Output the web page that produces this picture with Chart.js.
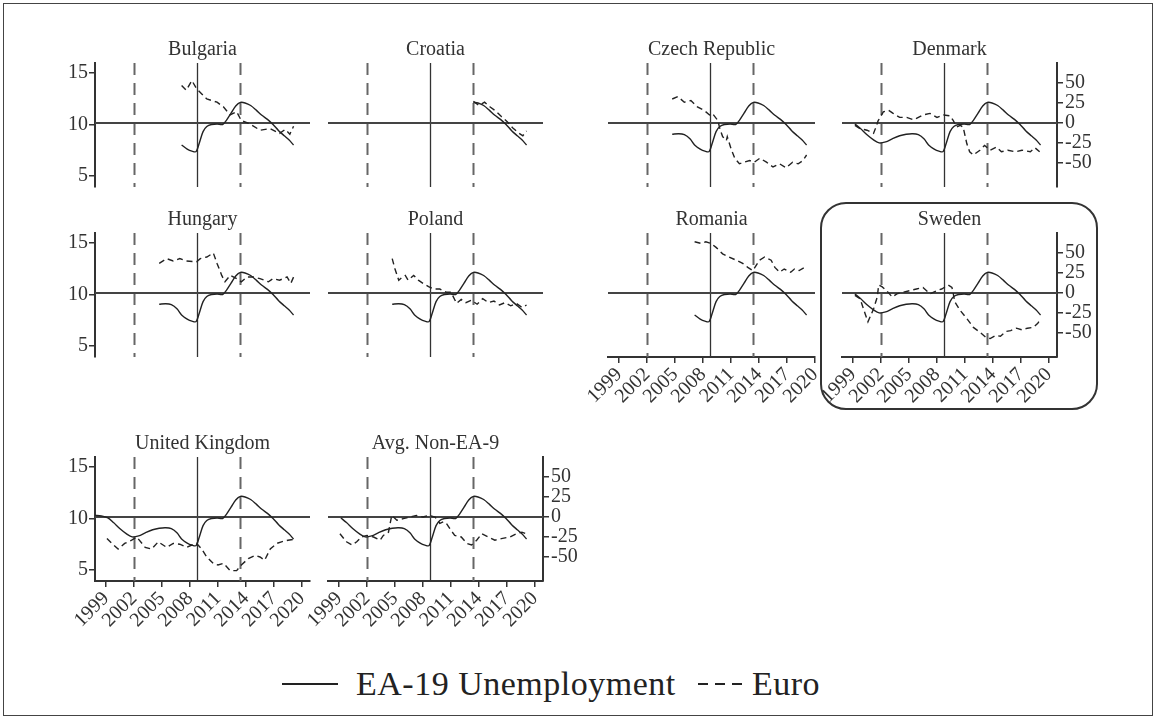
<!DOCTYPE html>
<html>
<head>
<meta charset="utf-8">
<script src="https://cdn.jsdelivr.net/npm/chart.js@4.4.1/dist/chart.umd.min.js"></script>
<style>
  html, body { margin: 0; padding: 0; background: #fff; }
  #page { position: relative; width: 1157px; height: 720px; overflow: hidden; background: #fff; }
  #frame { position: absolute; left: 3px; top: 3px; width: 1150px; height: 713px; border: 1px solid #444; box-sizing: border-box; }
  #page canvas { position: absolute; }
  #swbox { position: absolute; left: 820px; top: 202px; width: 278px; height: 208px; border: 2px solid #333; border-radius: 26px; box-sizing: border-box; }
  .leg { position: absolute; font-family: 'Liberation Serif', serif; font-size: 34px; letter-spacing: 0.5px; color: #222; line-height: 1; }
  .solid { position: absolute; height: 2px; background: #222; }
  .dash { position: absolute; height: 2px; background: repeating-linear-gradient(to right, #222 0 10px, transparent 10px 17px); }
</style>
</head>
<body>
<div id="page">
  <div id="frame"></div>
  <div id="swbox"></div>
  <div class="solid" style="left:282px; top:683px; width:56px"></div>
  <div class="leg" style="left:356px; top:667px">EA-19 Unemployment</div>
  <div class="dash" style="left:698px; top:683px; width:48px"></div>
  <div class="leg" style="left:752px; top:667px">Euro</div>
</div>
<script>
/* Paneles: desempleo EA-19 (eje izq.) y apoyo al euro (eje der.) por pais */
(function () {
  'use strict';

  var INK = '#222';
  var FONT = "'Liberation Serif', serif";

  // ejes
  var X_TICKS = [1999, 2002, 2005, 2008, 2011, 2014, 2017, 2020];
  var YL_TICKS = [5, 10, 15];
  var YR_TICKS = [-50, -25, 0, 25, 50];
  var EVENT_DASHED = [2002, 2013.4];
  var EVENT_SOLID = [2008.7];

  // desempleo EA-19 (serie comun)
  var EA_YEARS = [1997.8, 1998.5, 1999.2, 1999.8, 2000.5, 2001.2, 2001.8, 2002.5, 2003.2, 2004.0,
    2004.7, 2005.4, 2006.0, 2006.6, 2007.1, 2007.7, 2008.2, 2008.65, 2009.0, 2009.4,
    2009.8, 2010.3, 2010.9, 2011.5, 2011.9, 2012.4, 2012.9, 2013.4, 2013.9, 2014.5,
    2015.1, 2015.7, 2016.3, 2016.9, 2017.5, 2018.1, 2018.6, 2019.1];
  var EA_RATE = [10.3, 10.25, 10.05, 9.6, 9.0, 8.5, 8.2, 8.3, 8.6, 8.9,
    9.05, 9.1, 9.0, 8.6, 8.0, 7.6, 7.4, 7.35, 8.2, 9.3,
    9.8, 10.0, 10.05, 10.0, 10.4, 11.1, 11.8, 12.15, 12.1, 11.85,
    11.4, 10.9, 10.5, 10.0, 9.4, 8.9, 8.5, 8.0];

  // euro (año, valor)
  var EURO_BG = [[2007.1, 47], [2007.6, 41], [2008.2, 53], [2008.7, 43], [2009.8, 30], [2010.9, 26], [2011.6, 20],
    [2012.3, 10], [2013.0, 14], [2013.5, 3], [2014.4, -1], [2015.5, -9], [2016.6, -7], [2017.6, -13],
    [2018.2, -8], [2018.7, -14], [2019.1, -4]];
  var EURO_HR = [[2013.4, 27], [2014.0, 22], [2014.6, 26], [2015.2, 20], [2015.8, 15], [2016.4, 8], [2017.0, 2],
    [2017.6, -6], [2018.2, -12], [2018.7, -16], [2019.1, -10]];
  var EURO_CZ = [[2004.7, 30], [2005.3, 33], [2006.0, 26], [2006.7, 28], [2007.4, 20], [2008.1, 16], [2008.7, 10],
    [2009.0, 12], [2009.6, 3], [2009.8, -7], [2010.1, -17], [2010.5, -22], [2010.6, -17], [2011.0, -32],
    [2011.4, -44], [2011.9, -51], [2012.4, -49], [2013.0, -47], [2013.5, -49], [2014.1, -44], [2014.8, -49],
    [2015.5, -55], [2016.2, -51], [2016.9, -56], [2017.6, -49], [2018.2, -51], [2018.7, -47], [2019.1, -40]];
  var EURO_DK = [[1999.2, -3], [1999.75, -7], [2000.5, -9], [2001.2, -13], [2001.4, -7], [2001.7, 3], [2002.25, 14],
    [2002.8, 16], [2003.3, 12], [2004.0, 7], [2004.75, 7], [2005.5, 4], [2006.5, 10], [2007.25, 12],
    [2008.0, 7], [2008.7, 10], [2009.4, 9], [2009.75, 3], [2010.1, -5], [2010.5, -3], [2010.8, -5],
    [2011.2, -26], [2011.5, -36], [2011.9, -40], [2012.6, -34], [2013.1, -28], [2013.7, -34], [2014.4, -30],
    [2014.9, -36], [2015.6, -34], [2016.4, -36], [2017.1, -34], [2018.0, -36], [2018.5, -31], [2019.0, -36]];
  var EURO_HU = [[2004.7, 37], [2005.5, 43], [2006.2, 40], [2006.9, 43], [2007.6, 40], [2008.7, 39], [2009.1, 43],
    [2009.8, 45], [2010.5, 50], [2010.9, 37], [2011.4, 22], [2011.75, 14], [2012.3, 22], [2013.0, 18],
    [2013.5, 14], [2014.1, 20], [2014.8, 20], [2015.5, 18], [2016.4, 14], [2016.9, 18], [2017.6, 16],
    [2018.4, 20], [2018.8, 12], [2019.1, 20]];
  var EURO_PL = [[2004.7, 43], [2005.0, 30], [2005.4, 16], [2005.7, 19], [2006.1, 22], [2006.4, 16], [2007.0, 22],
    [2007.5, 16], [2008.0, 12], [2008.6, 8], [2009.1, 5], [2009.8, 5], [2010.5, 1], [2011.0, 1], [2011.6, -13],
    [2012.1, -8], [2012.6, -12], [2013.2, -9], [2013.8, -14], [2014.4, -7], [2015.0, -12], [2015.6, -10],
    [2016.2, -15], [2016.8, -12], [2017.4, -16], [2018.0, -13], [2018.6, -18], [2019.1, -15]];
  var EURO_RO = [[2007.1, 64], [2007.8, 62], [2008.3, 64], [2008.85, 62], [2009.4, 57], [2010.1, 49], [2010.8, 45],
    [2011.55, 41], [2012.25, 37], [2012.8, 32], [2013.35, 28], [2014.05, 41], [2014.6, 45], [2015.3, 41],
    [2015.7, 32], [2016.2, 26], [2016.7, 30], [2017.4, 26], [2017.8, 30], [2018.3, 28], [2018.9, 32]];
  var EURO_SE = [[1999.2, -3], [1999.75, -7], [2000.3, -26], [2000.6, -36], [2001.2, -20], [2001.6, -5],
    [2001.75, 10], [2002.1, 8], [2002.6, 3], [2003.2, -5], [2003.7, -1], [2004.4, 1], [2005.1, 3], [2005.8, 5],
    [2006.5, 7], [2007.25, -1], [2008.0, 3], [2008.5, 5], [2009.2, 10], [2009.6, 7], [2009.75, -1],
    [2009.9, -11], [2010.5, -22], [2011.2, -32], [2011.9, -43], [2012.6, -49], [2013.2, -55], [2013.7, -57],
    [2014.3, -53], [2014.8, -54], [2015.4, -48], [2015.9, -47], [2016.5, -44], [2017.1, -46], [2017.7, -44],
    [2018.3, -43], [2018.8, -38], [2019.1, -32]];
  var EURO_UK = [[1999.1, -27], [1999.8, -35], [2000.3, -40], [2001.0, -33], [2001.75, -29], [2002.3, -25],
    [2003.2, -38], [2003.9, -40], [2004.6, -31], [2005.5, -38], [2006.2, -33], [2006.9, -34], [2007.65, -38],
    [2008.2, -35], [2008.7, -33], [2009.25, -40], [2009.8, -50], [2010.5, -58], [2011.0, -60], [2011.6, -58],
    [2012.3, -67], [2013.0, -67], [2013.5, -60], [2014.25, -52], [2015.0, -48], [2015.5, -50], [2016.0, -54],
    [2016.6, -40], [2017.3, -33], [2017.8, -31], [2018.5, -29], [2019.1, -28]];
  var EURO_AVG = [[1999.1, -21], [1999.8, -31], [2000.4, -35], [2000.9, -31], [2001.4, -25], [2002.0, -23],
    [2002.7, -25], [2003.4, -29], [2003.75, -23], [2004.3, -19], [2004.65, 2], [2005.2, -4], [2005.9, -2],
    [2006.6, 0], [2007.3, 2], [2008.0, 0], [2008.6, 2], [2009.3, 0], [2009.8, -8], [2010.2, -6], [2010.5, -8],
    [2010.9, -15], [2011.4, -23], [2012.1, -25], [2012.7, -33], [2013.2, -35], [2013.75, -29], [2014.3, -21],
    [2015.0, -25], [2015.7, -29], [2016.4, -27], [2017.3, -25], [2018.0, -21], [2018.6, -19], [2019.1, -21]];

  // rejilla de paneles (la columna 3 termina en 2020)
  var COL_X = [95, 328, 608, 842];
  var COL_W = [215, 215, 207, 215];
  var COL_XMAX = [2020.86, 2020.86, 2020.0, 2020.86];
  var ROW_Y = [63, 233, 457];
  var PH = 124;
  var X_MIN = 1997.82;
  var YL_MIN = 3.9, YL_MAX = 16.0;
  var YR_MIN = -80, YR_MAX = 75;

  var PANELS = [
    { title: 'Bulgaria', col: 0, row: 0, from: 2007.1, euro: EURO_BG, left: true },
    { title: 'Croatia', col: 1, row: 0, from: 2013.4, euro: EURO_HR },
    { title: 'Czech Republic', col: 2, row: 0, from: 2004.7, euro: EURO_CZ },
    { title: 'Denmark', col: 3, row: 0, from: 1999.2, euro: EURO_DK, right: true },
    { title: 'Hungary', col: 0, row: 1, from: 2004.7, euro: EURO_HU, left: true },
    { title: 'Poland', col: 1, row: 1, from: 2004.7, euro: EURO_PL },
    { title: 'Romania', col: 2, row: 1, from: 2007.1, euro: EURO_RO, xaxis: true },
    { title: 'Sweden', col: 3, row: 1, from: 1999.2, euro: EURO_SE, right: true, xaxis: true },
    { title: 'United Kingdom', col: 0, row: 2, from: 1997.8, euro: EURO_UK, left: true, xaxis: true },
    { title: 'Avg. Non-EA-9', col: 1, row: 2, from: 1999.2, euro: EURO_AVG, right: true, xaxis: true }
  ];

  var M = 70, T = 40, B = 80, AXW = 40, XH = 50;

  // lineas de referencia: vertical (eventos) y horizontal en euro = 0
  var refLines = {
    id: 'refLines',
    beforeDatasetsDraw: function (chart) {
      var ctx = chart.ctx, a = chart.chartArea, x = chart.scales.x, yr = chart.scales.yR;
      ctx.save();
      ctx.strokeStyle = '#666';
      ctx.lineWidth = 2;
      ctx.setLineDash([12, 8]);
      EVENT_DASHED.forEach(function (v) {
        var px = Math.round(x.getPixelForValue(v)) + 0.5;
        ctx.beginPath(); ctx.moveTo(px, a.top); ctx.lineTo(px, a.bottom); ctx.stroke();
      });
      ctx.setLineDash([]);
      ctx.strokeStyle = '#333';
      ctx.lineWidth = 1.3;
      EVENT_SOLID.forEach(function (v) {
        var px = Math.round(x.getPixelForValue(v)) + 0.5;
        ctx.beginPath(); ctx.moveTo(px, a.top); ctx.lineTo(px, a.bottom); ctx.stroke();
      });
      ctx.strokeStyle = '#444';
      ctx.lineWidth = 2;
      var py = Math.round(yr.getPixelForValue(0));
      ctx.beginPath(); ctx.moveTo(a.left, py); ctx.lineTo(a.right, py); ctx.stroke();
      ctx.restore();
    }
  };

  var panelTitle = {
    id: 'panelTitle',
    afterDraw: function (chart, args, opts) {
      var ctx = chart.ctx, a = chart.chartArea;
      ctx.save();
      ctx.font = '20px ' + FONT;
      ctx.fillStyle = '#333';
      ctx.textAlign = 'center';
      ctx.textBaseline = 'middle';
      ctx.fillText(opts.text, (a.left + a.right) / 2, a.top - 13);
      ctx.restore();
    }
  };

  function eaPoints(from) {
    var pts = [];
    EA_YEARS.forEach(function (yr, i) {
      if (yr >= from - 0.001) pts.push({ x: yr, y: EA_RATE[i] });
    });
    return pts;
  }

  function fixedTicks(vals) {
    return function (s) { s.ticks = vals.map(function (v) { return { value: v }; }); };
  }

  function axisOpts(show) {
    return {
      display: !!show,
      grid: { drawOnChartArea: false, drawTicks: true, tickLength: 6, color: '#333', lineWidth: 1.5 },
      border: { display: true, color: '#333', width: 2 },
      ticks: { color: '#333', font: { family: FONT, size: 20 }, padding: 1,
        callback: function (v) { return String(v); } }
    };
  }

  function panel(p) {
    var page = document.getElementById('page');
    var cv = document.createElement('canvas');
    var px = COL_X[p.col], py = ROW_Y[p.row], pw = COL_W[p.col];
    cv.width = pw + 2 * M;
    cv.height = PH + T + B;
    cv.style.left = (px - M) + 'px';
    cv.style.top = (py - T) + 'px';
    page.appendChild(cv);

    var x = axisOpts(p.xaxis);
    x.type = 'linear'; x.min = X_MIN; x.max = COL_XMAX[p.col]; x.position = 'bottom';
    x.ticks.minRotation = 45; x.ticks.maxRotation = 45; x.ticks.autoSkip = false; x.ticks.padding = 0;
    x.afterBuildTicks = fixedTicks(X_TICKS);
    x.afterFit = function (s) { s.paddingLeft = 0; s.paddingRight = 0; if (s.options.display) s.height = XH; };

    var yL = axisOpts(p.left);
    yL.position = 'left'; yL.min = YL_MIN; yL.max = YL_MAX;
    yL.afterBuildTicks = fixedTicks(YL_TICKS);
    yL.afterFit = function (s) { s.paddingTop = 0; s.paddingBottom = 0; if (s.options.display) s.width = AXW; };

    var yR = axisOpts(p.right);
    yR.position = 'right'; yR.min = YR_MIN; yR.max = YR_MAX; yR.ticks.padding = 2;
    yR.afterBuildTicks = fixedTicks(YR_TICKS);
    yR.afterFit = function (s) { s.paddingTop = 0; s.paddingBottom = 0; if (s.options.display) s.width = AXW; };

    new Chart(cv, {
      type: 'line',
      data: {
        datasets: [
          { label: 'EA-19 Unemployment', data: eaPoints(p.from), yAxisID: 'yL',
            borderColor: INK, borderWidth: 1.4, pointRadius: 0, tension: 0.3, fill: false },
          { label: 'Euro', data: p.euro.map(function (d) { return { x: d[0], y: d[1] }; }), yAxisID: 'yR',
            borderColor: INK, borderWidth: 1.4, borderDash: [6, 4], pointRadius: 0, tension: 0, fill: false }
        ]
      },
      options: {
        responsive: false,
        animation: false,
        events: [],
        layout: { padding: {
          left: M - (p.left ? AXW : 0), right: M - (p.right ? AXW : 0),
          top: T, bottom: B - (p.xaxis ? XH : 0) } },
        plugins: { legend: { display: false }, tooltip: { enabled: false }, panelTitle: { text: p.title } },
        scales: { x: x, yL: yL, yR: yR }
      },
      plugins: [refLines, panelTitle]
    });
  }

  PANELS.forEach(panel);
})();
</script>
</body>
</html>
